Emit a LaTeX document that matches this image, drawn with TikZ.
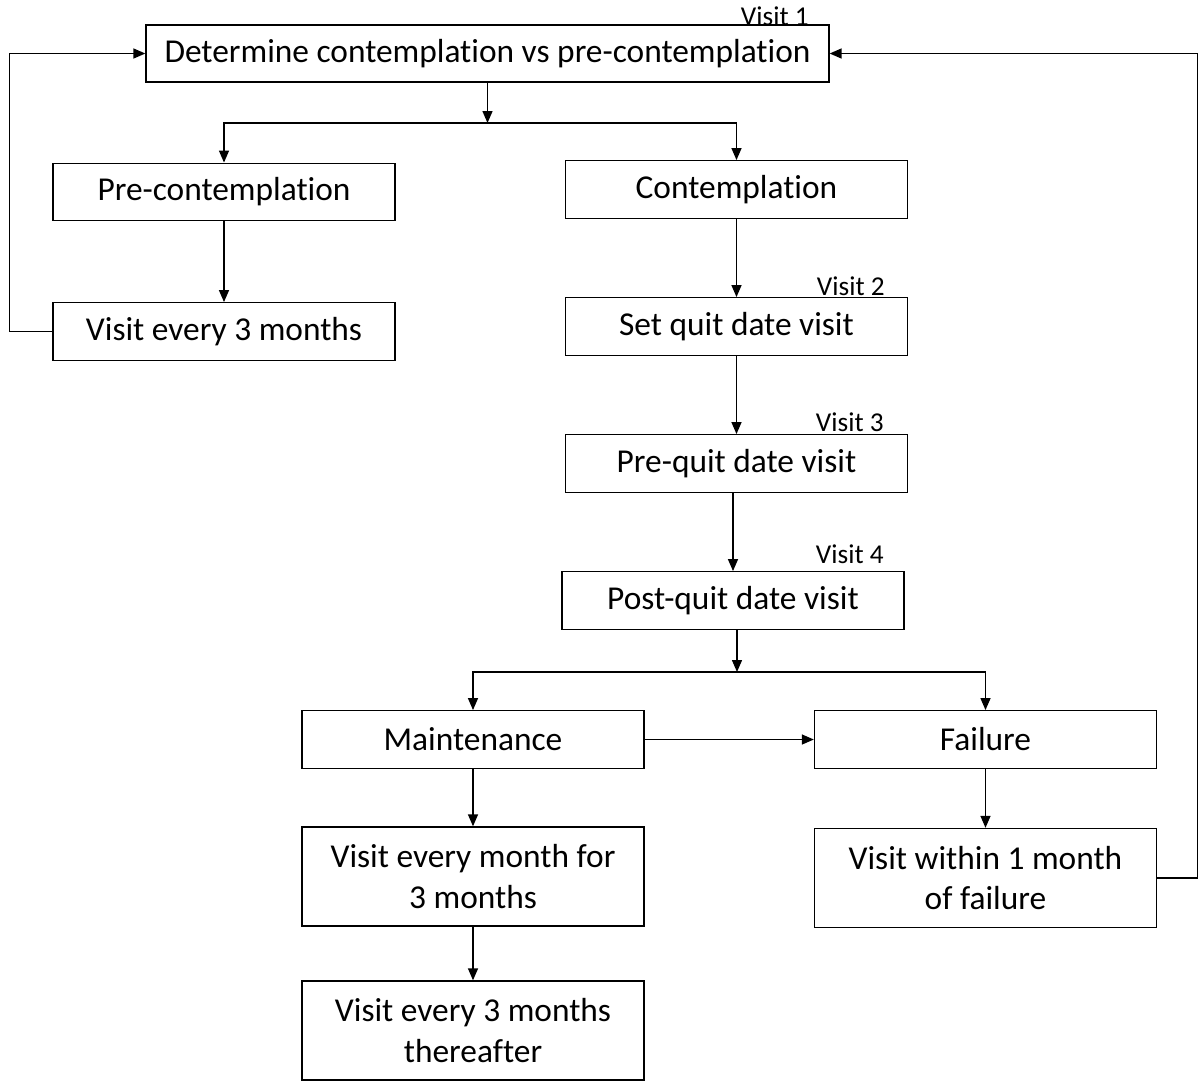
\documentclass[tikz,border=0pt]{standalone}
\usepackage{fontspec}
\setmainfont{Carlito}[Ligatures=NoCommon]
\usetikzlibrary{arrows.meta}

\begin{document}
\begin{tikzpicture}[x=0.02cm,y=-0.02cm,
  box/.style={draw,line width=0.8pt,inner sep=0pt,align=center,
    minimum width=6.84cm,minimum height=1.15cm,
    font=\fontsize{19}{23}\selectfont},
  tall/.style={minimum height=1.98cm},
  tag/.style={anchor=base east,inner sep=0pt,font=\fontsize{15.5}{17}\selectfont},
  arr/.style={line width=0.8pt,-{Triangle[length=2.4mm,width=2mm]}}]
  \useasboundingbox (0,0) rectangle (1198,1080);

  \node[box,minimum width=13.66cm,minimum height=1.14cm] (det) at (487.5,53.5)
    {Determine contemplation vs pre-contemplation};
  \node[box] (precont) at (224,192) {Pre-contemplation};
  \node[box] (cont) at (736.5,189.5) {Contemplation};
  \node[box] (every3) at (224,331.5) {Visit every 3 months};
  \node[box] (setquit) at (736.5,326.5) {Set quit date visit};
  \node[box] (prequit) at (736.5,463.5) {Pre-quit date visit};
  \node[box] (postquit) at (733,600.5) {Post-quit date visit};
  \node[box] (maint) at (473,739.5) {Maintenance};
  \node[box] (fail) at (985.5,739.5) {Failure};
  \node[box,tall] (monthly) at (473,876.5) {Visit every month for\\3 months};
  \node[box,tall] (within) at (985.5,878) {Visit within 1 month\\of failure};
  \node[box,tall] (after) at (473,1030.5) {Visit every 3 months\\thereafter};

  \node[tag] (v1) at (809,25) {Visit 1};
  \node[tag] (v2) at (885,295) {Visit 2};
  \node[tag] (v3) at (884,431) {Visit 3};
  \node[tag] (v4) at (884,563) {Visit 4};

  \coordinate (split1) at (487.5,123);
  \coordinate (split2) at (737,672);

  \draw[arr] (det) -- (split1);
  \draw[arr] (split1) -| (precont);
  \draw[arr] (split1) -| (cont);
  \draw[arr] (precont) -- (every3);
  \draw[arr] (cont) -- (setquit);
  \draw[arr] (setquit) -- (prequit);
  \draw[arr] (prequit.south -| postquit.north) -- (postquit.north);
  \draw[arr] (postquit.south -| split2) -- (split2);
  \draw[arr] (split2) -| (maint);
  \draw[arr] (split2) -| (fail);
  \draw[arr] (maint) -- (fail);
  \draw[arr] (maint) -- (monthly);
  \draw[arr] (monthly) -- (after);
  \draw[arr] (fail) -- (within);

  % loops back to the first visit
  \draw[arr] (every3.west) -- ++(-43,0) |- (det.west);
  \draw[arr] (within.east) -- ++(41,0) |- (det.east);
\end{tikzpicture}
\end{document}
